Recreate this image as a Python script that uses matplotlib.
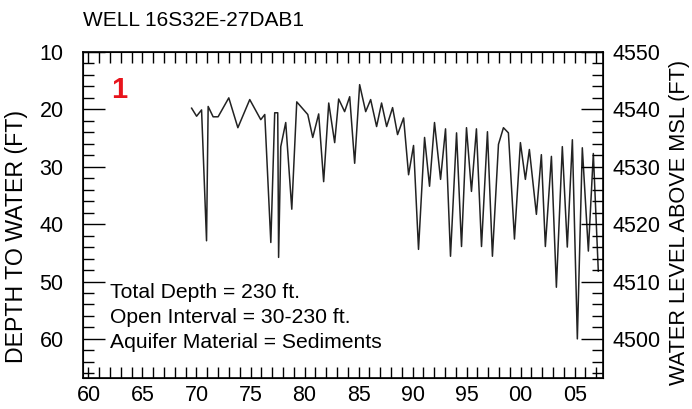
import numpy as np
import matplotlib
matplotlib.use("Agg")
import matplotlib.pyplot as plt
from matplotlib.ticker import MultipleLocator, FuncFormatter

plt.rcParams['font.family'] = ['Liberation Sans', 'DejaVu Sans']

# water level record
years = [1969.55, 1970.01, 1970.47, 1970.93, 1971.08, 1971.54, 1972.0, 1972.99, 1973.83,
         1974.93, 1975.95, 1976.32, 1976.88, 1977.24, 1977.52, 1977.6, 1977.8, 1978.26,
         1978.82, 1979.28, 1980.3, 1980.76, 1981.31, 1981.77, 1982.24, 1982.79, 1983.16,
         1983.71, 1984.18, 1984.64, 1985.1, 1985.66, 1986.12, 1986.67, 1987.13, 1987.6,
         1988.15, 1988.61, 1989.17, 1989.63, 1990.09, 1990.55, 1991.11, 1991.57, 1992.03,
         1992.59, 1993.05, 1993.51, 1994.07, 1994.53, 1994.99, 1995.45, 1995.91, 1996.38,
         1996.93, 1997.39, 1997.95, 1998.41, 1998.87, 1999.43, 1999.98, 2000.44, 2000.81,
         2001.46, 2001.92, 2002.29, 2002.85, 2003.31, 2003.86, 2004.32, 2004.79, 2005.25,
         2005.71, 2006.27, 2006.73, 2007.19]
depth = [19.8, 21.2, 20.1, 42.9, 19.5, 21.3, 21.3, 18.0, 23.2,
         18.3, 21.8, 20.9, 43.2, 20.6, 20.6, 45.8, 26.5, 22.3,
         37.4, 18.7, 20.9, 24.9, 20.8, 32.6, 18.9, 25.8, 18.2,
         20.4, 17.8, 29.4, 15.7, 20.4, 18.3, 23.0, 18.9, 23.0,
         19.7, 24.4, 21.5, 31.4, 26.3, 44.4, 24.9, 33.4, 22.3,
         32.2, 23.4, 45.6, 24.1, 43.9, 23.2, 34.3, 23.4, 43.9,
         23.9, 45.6, 26.1, 23.2, 24.1, 42.6, 25.8, 32.2, 27.0,
         38.3, 27.9, 43.9, 28.2, 51.0, 26.5, 44.0, 25.3, 60.0,
         26.7, 44.7, 27.7, 48.2]

well_name = "WELL 16S32E-27DAB1"
land_surface = 4560
info_lines = ["Total Depth = 230 ft.", "Open Interval = 30-230 ft.",
              "Aquifer Material = Sediments"]

fig = plt.figure(figsize=(6.92, 4.09), dpi=100)
ax = fig.add_axes([0.12, 0.076, 0.751, 0.797])

ax.plot(years, depth, color='#222222', lw=1.1)

ax.set_xlim(1959.5, 2007.6)
ax.set_ylim(66.8, 10)

ax.xaxis.set_major_locator(MultipleLocator(5))
ax.xaxis.set_minor_locator(MultipleLocator(1))
ax.xaxis.set_major_formatter(FuncFormatter(lambda v, p: f"{int(round(v)) % 100:02d}"))
ax.yaxis.set_major_locator(MultipleLocator(10))
ax.yaxis.set_minor_locator(MultipleLocator(2))

ax.tick_params(axis='x', which='both', direction='in', top=True, length=8, width=1,
               labelsize=15.5, pad=5)
ax.tick_params(axis='y', which='major', direction='in', length=16, width=1,
               labelsize=15.5, pad=14)
ax.tick_params(axis='y', which='minor', direction='in', length=8, width=1)
for s in ax.spines.values():
    s.set_linewidth(1.2)

ax.set_ylabel("DEPTH TO WATER (FT)", fontsize=16.7, va='center')
ax.yaxis.set_label_coords(-0.128, 0.433)

# right axis as elevation
ax2 = ax.twinx()
ax2.set_ylim(land_surface - 66.8, land_surface - 10)
ax2.yaxis.set_major_locator(MultipleLocator(10))
ax2.yaxis.set_minor_locator(MultipleLocator(2))
ax2.tick_params(axis='y', which='major', direction='in', length=16, width=1,
                labelsize=15.5, pad=7)
ax2.tick_params(axis='y', which='minor', direction='in', length=8, width=1)
ax2.set_ylabel("WATER LEVEL ABOVE MSL (FT)", fontsize=15.7, va='center')
ax2.yaxis.set_label_coords(1.148, 0.478)

fig.text(0.12, 0.949, well_name, fontsize=15, ha='left', va='center')
ax.text(0.069, 0.883, "1", transform=ax.transAxes, color='#e8141c', fontsize=21,
        fontweight='bold', ha='center', va='center')
for i, line in enumerate(info_lines):
    ax.text(0.052, 0.262 - i * 0.077, line, transform=ax.transAxes, fontsize=15.2,
            ha='left', va='center')

fig.savefig("out.png", dpi=100)
